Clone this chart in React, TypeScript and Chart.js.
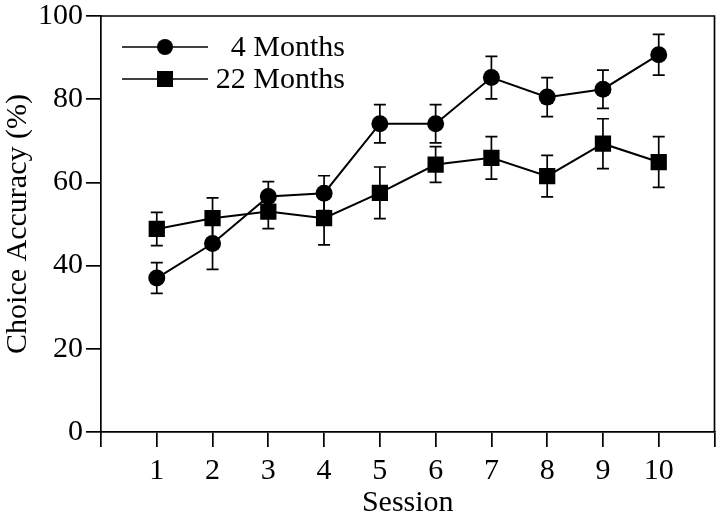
import React, { useEffect, useRef } from "react";
import { Chart, registerables } from "chart.js";

Chart.register(...registerables);

const sessions = [1, 2, 3, 4, 5, 6, 7, 8, 9, 10];
const months4 = [37.0, 45.3, 56.6, 57.4, 74.1, 74.1, 85.2, 80.5, 82.4, 90.7];
const months4Err = [3.7, 6.2, 3.6, 4.2, 4.6, 4.6, 5.1, 4.7, 4.6, 4.9];
const months22 = [48.8, 51.4, 53.0, 51.4, 57.5, 64.3, 65.9, 61.5, 69.3, 64.9];
const months22Err = [4.0, 4.9, 4.1, 6.4, 6.2, 4.3, 5.1, 5.0, 6.0, 6.1];
const legendLabels = ["4 Months", "22 Months"];
const yTicks = [0, 20, 40, 60, 80, 100];
const xLabelTicks = [1, 2, 3, 4, 5, 6, 7, 8, 9, 10];

const FONT = "'Liberation Serif', 'Times New Roman', serif";
const FS = 30;

const errorBarPlugin = {
  id: "errorBars",
  beforeDatasetsDraw(chart: any) {
    const { ctx, scales } = chart;
    const xs = scales.x;
    const ys = scales.y;
    const errs = [months4Err, months22Err];
    ctx.save();
    ctx.strokeStyle = "#000";
    ctx.lineWidth = 1.7;
    chart.data.datasets.forEach((ds: any, di: number) => {
      ds.data.forEach((p: any, i: number) => {
        const e = errs[di][i];
        const px = xs.getPixelForValue(p.x);
        const top = ys.getPixelForValue(p.y + e);
        const bot = ys.getPixelForValue(p.y - e);
        ctx.beginPath();
        ctx.moveTo(px, top);
        ctx.lineTo(px, bot);
        ctx.moveTo(px - 6, top);
        ctx.lineTo(px + 6, top);
        ctx.moveTo(px - 6, bot);
        ctx.lineTo(px + 6, bot);
        ctx.stroke();
      });
    });
    ctx.restore();
  },
};

const framePlugin = {
  id: "frame",
  afterDraw(chart: any) {
    const { ctx, chartArea } = chart;
    ctx.save();
    ctx.strokeStyle = "#000";
    ctx.lineWidth = 1.7;
    ctx.beginPath();
    ctx.moveTo(chartArea.left, chartArea.top);
    ctx.lineTo(chartArea.right, chartArea.top);
    ctx.lineTo(chartArea.right, chartArea.bottom);
    ctx.stroke();

    // legend
    const rows = [
      { label: legendLabels[0], style: "circle" },
      { label: legendLabels[1], style: "rect" },
    ];
    const lx0 = chartArea.left + 21;
    const lx1 = chartArea.left + 107;
    const mx = chartArea.left + 64;
    const textRight = chartArea.left + 244;
    ctx.font = `${FS}px ${FONT}`;
    ctx.fillStyle = "#000";
    ctx.textAlign = "right";
    ctx.textBaseline = "middle";
    rows.forEach((r, i) => {
      const y = chartArea.top + 31 + i * 32;
      ctx.lineWidth = 1.7;
      ctx.beginPath();
      ctx.moveTo(lx0, y);
      ctx.lineTo(lx1, y);
      ctx.stroke();
      if (r.style === "circle") {
        ctx.beginPath();
        ctx.arc(mx, y, 8, 0, Math.PI * 2);
        ctx.fill();
      } else {
        ctx.fillRect(mx - 8, y - 8, 16, 16);
      }
      ctx.fillText(r.label, textRight, y + 1);
    });
    ctx.restore();
  },
};

export default function App() {
  const ref = useRef<HTMLCanvasElement>(null);
  useEffect(() => {
    if (!ref.current) return;
    const chart = new Chart(ref.current, {
      type: "line",
      data: {
        datasets: [
          {
            label: legendLabels[0],
            data: sessions.map((s, i) => ({ x: s, y: months4[i] })),
            borderColor: "#000",
            backgroundColor: "#000",
            borderWidth: 2,
            pointStyle: "circle",
            pointRadius: 8.5,
            pointBackgroundColor: "#000",
            pointBorderWidth: 0,
          },
          {
            label: legendLabels[1],
            data: sessions.map((s, i) => ({ x: s, y: months22[i] })),
            borderColor: "#000",
            backgroundColor: "#000",
            borderWidth: 2,
            pointStyle: "rect",
            pointRadius: 11.5,
            pointBackgroundColor: "#000",
            pointBorderWidth: 0,
          },
        ],
      },
      options: {
        responsive: false,
        animation: false,
        layout: { padding: { top: 16, right: 0, left: 0, bottom: 0 } },
        plugins: {
          legend: { display: false },
          tooltip: { enabled: false },
        },
        scales: {
          x: {
            type: "linear",
            min: 0,
            max: 11,
            afterFit: (s: any) => {
              s.height = 86;
              s.paddingLeft = 0;
              s.paddingRight = 0;
            },
            afterBuildTicks: (s: any) => {
              s.ticks = [0, ...xLabelTicks, 11].map((v) => ({ value: v }));
            },
            ticks: {
              color: "#000",
              font: { family: FONT, size: FS },
              padding: 6,
              maxRotation: 0,
              autoSkip: false,
              callback: (v: any) => (xLabelTicks.includes(v) ? String(v) : ""),
            },
            grid: {
              drawOnChartArea: false,
              tickLength: 15,
              color: "#000",
              lineWidth: 1.7,
            },
            border: { display: true, color: "#000", width: 1.7 },
            title: {
              display: true,
              text: "Session",
              color: "#000",
              font: { family: FONT, size: FS },
              padding: { top: -3, bottom: -3 },
            },
          },
          y: {
            type: "linear",
            min: 0,
            max: 100,
            afterFit: (s: any) => {
              s.width = 101;
              s.paddingTop = 0;
              s.paddingBottom = 0;
            },
            afterBuildTicks: (s: any) => {
              s.ticks = yTicks.map((v) => ({ value: v }));
            },
            ticks: {
              color: "#000",
              font: { family: FONT, size: FS },
              padding: 3,
            },
            grid: {
              drawOnChartArea: false,
              tickLength: 15,
              color: "#000",
              lineWidth: 1.7,
            },
            border: { display: true, color: "#000", width: 1.7 },
            title: {
              display: true,
              text: "Choice Accuracy (%)",
              color: "#000",
              font: { family: FONT, size: FS },
              padding: 0,
            },
          },
        },
      },
      plugins: [errorBarPlugin, framePlugin],
    });
    return () => chart.destroy();
  }, []);
  return (
    <div
      style={{
        position: "absolute",
        left: 0,
        top: 0,
        width: 720,
        height: 518,
        overflow: "hidden",
        background: "#fff",
      }}
    >
      <canvas ref={ref} width={726} height={518} />
    </div>
  );
}
